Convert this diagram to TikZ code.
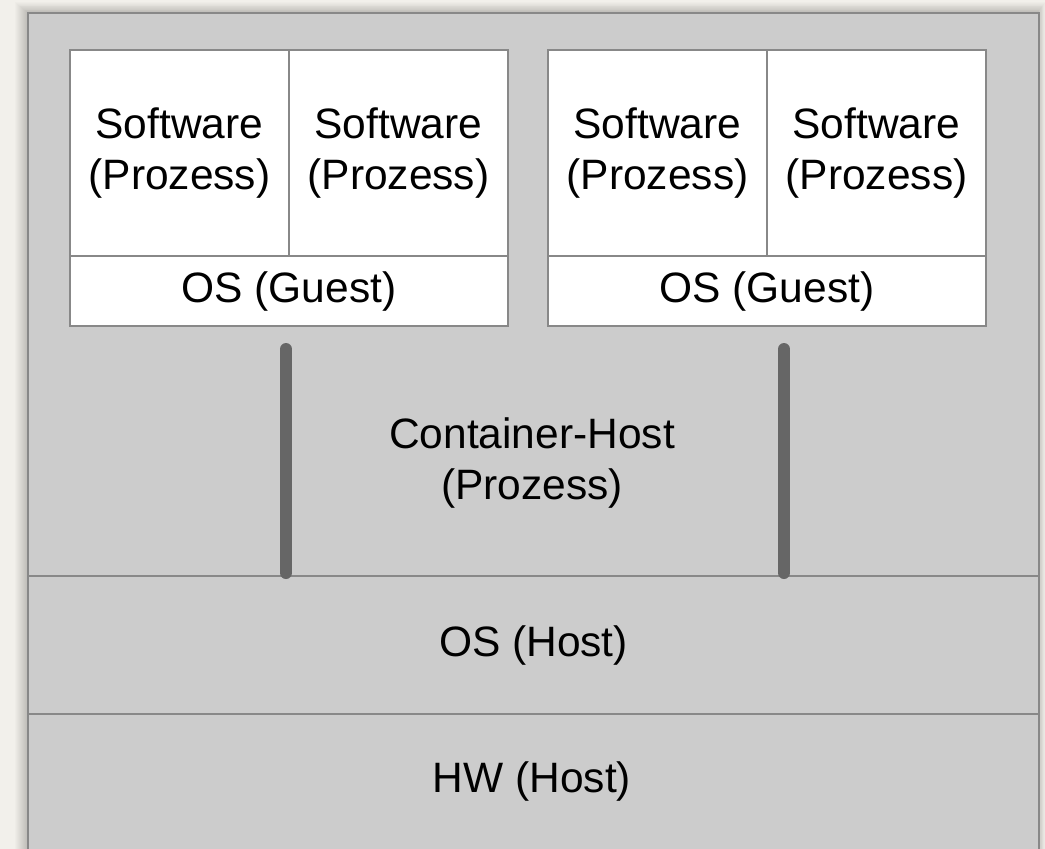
\documentclass[tikz,border=0pt]{standalone}
\usepackage{fontspec}
\setmainfont{Liberation Sans}
\begin{document}
\begin{tikzpicture}[x=1pt,y=-1pt,
  txt/.style={font=\fontsize{42.5}{51}\selectfont},
  cell/.style={txt,draw=bordergray,line width=2pt,fill=white,minimum width=219pt,minimum height=206pt,inner sep=0pt,anchor=north west,align=center},
  guestos/.style={txt,draw=bordergray,line width=2pt,fill=white,minimum width=438pt,minimum height=70pt,inner sep=0pt,anchor=north west},
  layer/.style={txt,draw=bordergray,line width=2pt,fill=boxgray,minimum width=1011pt,inner sep=0pt,anchor=north west},
  label/.style={txt,align=center,inner sep=0pt},
  bar/.style={draw=bargray,line width=12pt,line cap=round}]
\definecolor{boxgray}{HTML}{CCCCCC}
\definecolor{bordergray}{HTML}{888888}
\definecolor{bargray}{HTML}{666666}
\definecolor{paper}{HTML}{F2F0EB}
\useasboundingbox (0,0) rectangle (1045,849);
\fill[paper] (0,0) rectangle (1045,849);
% soft shadow
\foreach \i in {1,...,12}{
  \fill[black,opacity=0.016] (27-\i,12-\i*0.8) rectangle (1038+\i*0.6,880);
}
% main box
\node[draw=bordergray,line width=2pt,fill=boxgray,minimum width=1011pt,minimum height=870pt,inner sep=0pt,anchor=north west] (main) at (27,12) {};
% container host label
\node[label] (chost) at (532,463) {Container-Host\\(Prozess)};
% host layers
\node[layer,minimum height=138pt] (oshost) at (27,575) {OS (Host)};
\node[layer,minimum height=160pt] (hwhost) at (27,713) {};
\node[label] (hwlabel) at (532,781) {HW (Host)};
% guest 1
\node[cell] (sw1a) at (69,49) {Software\\(Prozess)};
\node[cell] (sw1b) at (288,49) {Software\\(Prozess)};
\node[guestos] (os1) at (69,255) {OS (Guest)};
% guest 2
\node[cell] (sw2a) at (547,49) {Software\\(Prozess)};
\node[cell] (sw2b) at (766,49) {Software\\(Prozess)};
\node[guestos] (os2) at (547,255) {OS (Guest)};
% bars
\coordinate (b1top) at (286,349);
\coordinate (b1bot) at (286,573);
\coordinate (b2top) at (784,349);
\coordinate (b2bot) at (784,573);
\draw[bar] (b1top) -- (b1bot);
\draw[bar] (b2top) -- (b2bot);
\end{tikzpicture}
\end{document}
